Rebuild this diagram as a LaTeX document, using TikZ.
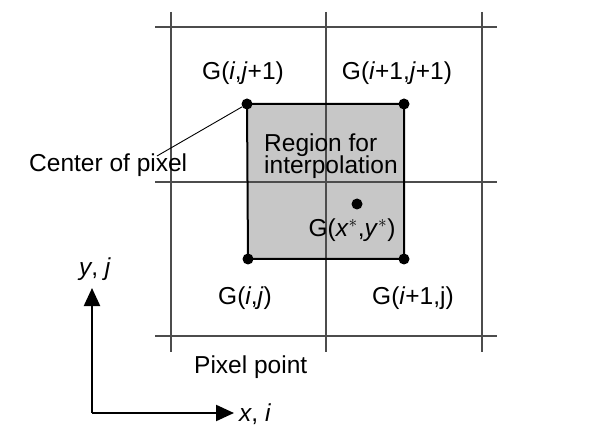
\documentclass[tikz,border=0pt]{standalone}
\usepackage{fontspec}
\setmainfont{Liberation Sans}
\usetikzlibrary{arrows.meta}
\begin{document}
\begin{tikzpicture}[x=1pt,y=-1pt,
  font=\fontsize{24.5}{26}\selectfont,
  gridline/.style={draw=black!70, line width=1.3pt},
  ptdot/.style={circle, fill=black, inner sep=0pt, minimum size=11pt},
  lbl/.style={inner sep=0pt},
  axis/.style={line width=2.2pt, -{Triangle[length=18pt,width=16pt]}}]
\useasboundingbox[fill=white] (0,0) rectangle (607,435);
% interpolation region
\coordinate (tl) at (247,104);
\coordinate (tr) at (404,104);
\coordinate (bl) at (248,259);
\coordinate (br) at (404,259);
\fill[black!22] (tl) -- (tr) -- (br) -- (bl) -- cycle;
% pixel grid
\foreach \x in {171,326,482} \draw[gridline] (\x,12) -- (\x,352);
\foreach \y in {27,182,336} \draw[gridline] (155,\y) -- (497,\y);
\draw[line width=2pt] (tl) -- (tr) -- (br) -- (bl) -- cycle;
% pixel centres
\node[ptdot] (ptl) at (tl) {};
\node[ptdot] (ptr) at (tr) {};
\node[ptdot] (pbl) at (bl) {};
\node[ptdot] (pbr) at (br) {};
\node[ptdot] (pxy) at (357,204) {};
% labels
\node[lbl] (gtl) at (243,73) {G(\textit{i},\textit{j}+1)};
\node[lbl] (gtr) at (397,73) {G(\textit{i}+1,\textit{j}+1)};
\node[lbl] (gbl) at (245,298) {G(\textit{i},\textit{j})};
\node[lbl] (gbr) at (413,298) {G(\textit{i}+1,j)};
\node[lbl] (gxy) at (352,230) {G(\textit{x}$^{*}$,\textit{y}$^{*}$)};
\node[lbl, anchor=west, align=left] (reg) at (264,156) {Region for\\[-4pt]interpolation};
\node[lbl, anchor=west] (cop) at (29,165) {Center of pixel};
\node[lbl, anchor=west] (pp) at (194,367) {Pixel point};
\draw[line width=0.9pt] (157,156) -- (ptl);
% axes
\coordinate (o) at (92,413);
\coordinate (yend) at (92,288);
\coordinate (xend) at (234,413);
\draw[axis] (o) -- (yend);
\draw[axis] (o) -- (xend);
\node[lbl] (ylab) at (95,269) {\textit{y}, \textit{j}};
\node[lbl, anchor=west] (xlab) at (239,414) {\textit{x}, \textit{i}};
\end{tikzpicture}
\end{document}
